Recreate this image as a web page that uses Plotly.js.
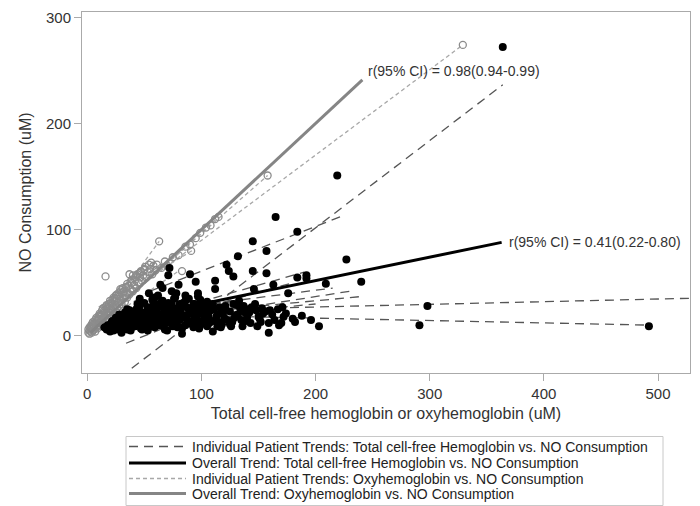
<!DOCTYPE html>
<html>
<head>
<meta charset="utf-8">
<script src="https://cdn.plot.ly/plotly-3.0.1.min.js"></script>
<style>html,body{margin:0;padding:0;background:#fff;}#chart{width:700px;height:506px;}</style>
</head>
<body>
<div id="chart"></div>
<script>
// ---- Data ----
// Total cell-free hemoglobin vs NO consumption (filled black points)
const totalX = [15,17,18,20,21,22,23,24,25,26,27,28,29,30,31,32,33,34,35,36,37,38,39,40,41,42,43,44,45,46,47,48,49,50,51,52,53,54,55,56,57,58,59,60,61,62,63,64,65,66,67,68,69,70,71,72,73,74,75,76,77,78,79,80,81,82,83,84,85,86,87,88,89,90,91,92,93,94,95,96,97,98,99,100,102,104,105,106,108,110,111,112,112,114,116,118,120,122,124,125,127,128,130,132,134,135,136,138,140,143,145,145,146,148,150,152,154,157,157,159,159,162,163,165,167,170,172,176,180,184,184,192,192,203,209,219,227,240,291,298,364,492,
  20,25,30,33,38,42,45,48,52,55,58,60,63,65,68,70,72,75,78,80,82,85,88,90,93,95,98,100,103,107,110,113,117,120,123,128,132,137,142,147,153,60,50,40,35,28,46,54,66,74,86,97,64,
  24,29,36,43,47,57,62,67,73,77,83,87,92,96,101,106,109,115,119,126,131,139,144,151,160,168,174,182,188,196,
  22,27,32,37,41,44,49,53,56,59,62,66,69,71,74,76,79,81,84,86,89,91,94,97,99,103,105,108,111,114,118,121,125,129,133,141,149,156,164,171];
const totalY = [8,6,10,7,12,9,5,14,8,11,6,15,9,12,7,18,10,14,6,20,11,16,8,22,13,9,25,17,11,28,7,19,14,31,10,22,5,16,26,12,34,19,8,24,14,38,28,10,20,33,16,6,25,13,57,64,21,30,9,18,36,12,26,48,15,22,2,31,17,10,27,20,35,58,13,24,8,30,51,18,26,12,34,21,15,28,9,19,24,4,14,52,44,20,27,11,17,67,61,23,13,56,19,75,26,15,9,22,17,12,89,61,44,24,18,13,21,80,59,12,3,20,48,112,25,12,18,40,16,98,55,57,54,9,49,151,72,51,10,28,272,9,
  4,17,3,22,5,19,24,6,13,20,30,9,17,32,22,5,17,26,40,20,8,28,14,22,30,16,7,28,22,12,30,18,8,25,15,30,20,28,22,30,26,30,20,16,25,20,35,40,45,42,38,40,48,
  11,13,16,12,21,15,27,11,15,23,7,17,11,20,26,17,25,13,22,9,29,14,27,16,24,10,21,13,19,15,
  14,9,19,24,18,30,22,27,9,36,16,27,12,31,23,35,8,30,19,33,12,26,18,37,10,18,32,14,25,9,22,28,11,17,33,25,9,23,15,27];
// Oxyhemoglobin vs NO consumption (open grey circles)
const oxyX = [1,1,2,2,3,3,4,4,5,5,6,6,7,7,8,8,9,9,10,10,11,11,12,12,13,13,14,14,15,15,16,16,17,17,18,18,19,19,20,20,21,21,22,22,23,24,24,25,26,26,27,28,28,29,30,30,31,32,33,33,34,35,35,36,37,37,38,39,40,40,41,42,43,44,45,46,47,48,49,50,52,53,55,57,58,60,61,63,65,68,70,75,80,83,86,90,91,95,99,104,108,112,115,158,329,
  3,6,9,12,15,18,21,24,27,30,34,38,42,46,50,54,
  4,7,10,13,16,19,22,25,28,31,35,39,43,47,51,56,2,5,8,11,14,17,20,23,26,29];
const oxyY = [3,6,2,5,4,8,3,7,5,10,6,9,4,12,8,11,7,14,10,16,9,13,12,18,15,20,11,17,19,22,14,56,21,25,17,23,26,20,22,28,18,25,30,24,27,33,21,29,35,26,31,37,28,33,40,30,35,42,32,38,45,36,41,47,39,58,44,50,42,57,48,53,45,58,50,55,60,52,57,62,55,60,63,58,66,62,67,89,64,70,66,74,76,61,84,86,80,92,97,102,104,110,112,151,274,
  9,12,16,20,24,27,31,35,38,43,46,51,55,59,63,67,
  11,15,19,24,27,30,34,38,41,45,49,53,57,61,65,69,8,13,17,21,26,29,33,36,39,44];

// Individual patient trend lines (start / end of each fitted line)
const totalTrendX = [[39,364],[55,226],[20,492],[20,540],[60,240],[34,150],[40,230],[50,200],[30,180],[60,190],[45,175],[70,215]];
const totalTrendY = [[-30.5,236.5],[42,114],[20.7,10.1],[22.6,35.7],[19,37],[-7,43],[10,42],[15,30],[5,50],[20,60],[12,26],[25,45]];
const oxyTrendX = [[5,329],[0,158],[15,63],[5,115],[10,93],[5,80]];
const oxyTrendY = [[13.5,274],[2,151],[18,89],[5,112],[27,81],[6,61]];

// Overall trends
const overallTotalX = [20,363];
const overallTotalY = [12.4,88];
const overallOxyX = [3,241];
const overallOxyY = [3,241];

const legendNames = [
  'Individual Patient Trends: Total cell-free Hemoglobin vs. NO Consumption',
  'Overall Trend: Total cell-free Hemoglobin vs. NO Consumption',
  'Individual Patient Trends: Oxyhemoglobin vs. NO Consumption',
  'Overall Trend: Oxyhemoglobin vs. NO Consumption'
];
const corrLabels = ['r(95% CI) = 0.98(0.94-0.99)', 'r(95% CI) = 0.41(0.22-0.80)'];

// ---- Styles ----
const styles = [
  {color: '#555', width: 1.3, dash: '9px,6px'},
  {color: '#000', width: 3, dash: 'solid'},
  {color: '#a8a8a8', width: 1.3, dash: '4px,3px'},
  {color: '#858585', width: 3, dash: 'solid'}
];

// ---- Traces ----
const traces = [];
oxyTrendX.forEach((xs, i) => {
  traces.push({x: xs, y: oxyTrendY[i], mode: 'lines', type: 'scatter', line: styles[2],
    name: legendNames[2], showlegend: false, hoverinfo: 'skip'});
});
totalTrendX.forEach((xs, i) => {
  traces.push({x: xs, y: totalTrendY[i], mode: 'lines', type: 'scatter', line: styles[0],
    name: legendNames[0], showlegend: false, hoverinfo: 'skip'});
});
traces.push({x: oxyX, y: oxyY, mode: 'markers', type: 'scatter', showlegend: false,
  marker: {symbol: 'circle-open', size: 7, color: '#8c8c8c', line: {width: 1.3, color: '#8c8c8c'}}});
traces.push({x: totalX, y: totalY, mode: 'markers', type: 'scatter', showlegend: false,
  marker: {symbol: 'circle', size: 8, color: '#000'}});
traces.push({x: overallTotalX, y: overallTotalY, mode: 'lines', type: 'scatter',
  line: styles[1], name: legendNames[1], showlegend: false});
traces.push({x: overallOxyX, y: overallOxyY, mode: 'lines', type: 'scatter',
  line: styles[3], name: legendNames[3], showlegend: false});

// ---- Legend drawn in paper coordinates (plot area: x 82..690 px, y 12..373 px) ----
const pxX = px => (px - 82) / 608;
const pxY = py => (373 - py) / 361;
const rowY = [446.5, 463, 478.5, 493.5];
const shapes = [{type: 'rect', xref: 'paper', yref: 'paper', x0: pxX(126), x1: pxX(663),
  y0: pxY(436.5), y1: pxY(505.5), line: {color: '#c8c8c8', width: 1}, fillcolor: 'rgba(0,0,0,0)'}];
const font = 'Liberation Sans, Arial, sans-serif';
const annotations = [
  {x: 244, y: 249, xref: 'x', yref: 'y', text: corrLabels[0], showarrow: false,
    xanchor: 'left', yanchor: 'middle', font: {size: 14, color: '#333'}},
  {x: 368, y: 88.4, xref: 'x', yref: 'y', text: corrLabels[1], showarrow: false,
    xanchor: 'left', yanchor: 'middle', font: {size: 14, color: '#333'}}
];
legendNames.forEach((name, i) => {
  shapes.push({type: 'line', xref: 'paper', yref: 'paper', x0: pxX(129), x1: pxX(186),
    y0: pxY(rowY[i]), y1: pxY(rowY[i]), line: styles[i]});
  annotations.push({xref: 'paper', yref: 'paper', x: pxX(190), y: pxY(rowY[i]), text: name,
    showarrow: false, xanchor: 'left', yanchor: 'middle', font: {size: 14, color: '#222', family: font}});
});

const layout = {
  width: 700, height: 506,
  margin: {l: 82, r: 10, t: 12, b: 133, autoexpand: false},
  paper_bgcolor: '#fff', plot_bgcolor: '#fff',
  font: {family: font, color: '#333', size: 14},
  showlegend: false,
  xaxis: {
    range: [-4.6, 528], tickvals: [0,100,200,300,400,500], ticks: 'outside', ticklen: 7,
    tickcolor: '#aaa', tickwidth: 1, showline: true, mirror: true, linecolor: '#aaa', linewidth: 1,
    showgrid: false, zeroline: false, tickfont: {size: 15, color: '#333'},
    title: {text: 'Total cell-free hemoglobin or oxyhemoglobin (uM)', font: {size: 16, color: '#333'}, standoff: 6}
  },
  yaxis: {
    range: [-35, 305], tickvals: [0,100,200,300], ticks: 'outside', ticklen: 7,
    tickcolor: '#aaa', tickwidth: 1, showline: true, mirror: true, linecolor: '#aaa', linewidth: 1,
    showgrid: false, zeroline: false, tickfont: {size: 15, color: '#333'},
    title: {text: 'NO Consumption (uM)', font: {size: 16, color: '#333'}, standoff: 10}
  },
  shapes: shapes,
  annotations: annotations
};
Plotly.newPlot('chart', traces, layout, {staticPlot: true, displayModeBar: false});
</script>
</body>
</html>
